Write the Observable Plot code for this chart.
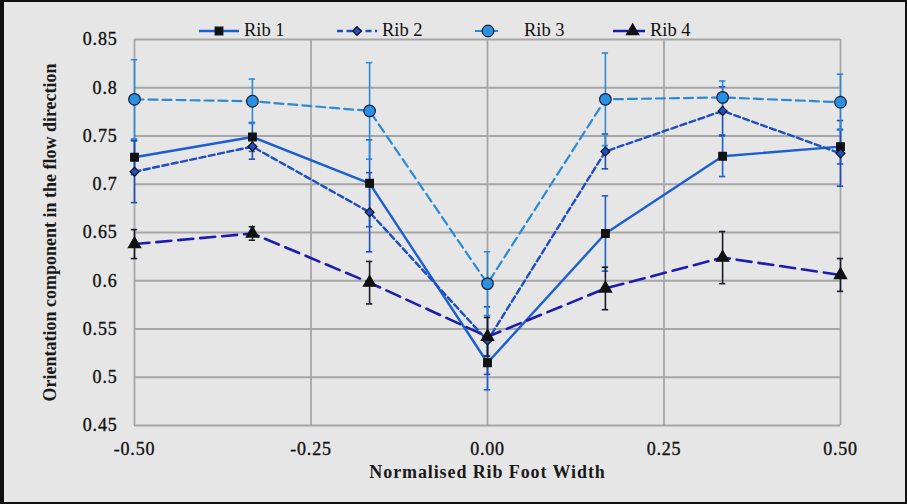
<!DOCTYPE html>
<html>
<head>
<meta charset="utf-8">
<script src="https://cdn.jsdelivr.net/npm/d3@7"></script>
<script src="https://cdn.jsdelivr.net/npm/@observablehq/plot@0.6"></script>
<style>
  html, body { margin: 0; padding: 0; background: #e6e6e6; }
  #wrap { position: relative; width: 907px; height: 504px; background: #e6e6e6; overflow: hidden; }
  #frame { position: absolute; left: 0; top: 0; width: 907px; height: 504px; box-sizing: border-box;
           border-style: solid; border-color: #111; border-width: 2px 2px 2px 4px; pointer-events: none; }
  #legend { position: absolute; top: 20px; left: 197px; display: flex; font-family: "Liberation Serif", serif;
            font-size: 18.5px; color: #111; }
  .item { display: flex; align-items: center; width: 138px; }
  .item svg { margin-right: 3px; }
  #chart svg text { font-family: "Liberation Serif", serif; }
  #chart g[aria-label="y-axis tick label"], #chart g[aria-label="x-axis tick label"] { font-size: 18px; letter-spacing: 0.8px; fill: #111; stroke: #111; stroke-width: 0.35px; }
  #chart g[aria-label="y-axis label"] { font-weight: bold; font-size: 18px; }
  #chart g[aria-label="x-axis label"] { font-weight: bold; font-size: 18px; letter-spacing: 0.9px; }
</style>
</head>
<body>
<div id="wrap">
  <div id="chart"></div>
  <div id="legend"></div>
  <div id="frame"></div>
</div>
<script>
// ---- data ----
const xValues = [-0.5, -0.333, -0.167, 0, 0.167, 0.333, 0.5];
const seriesNames = ["Rib 1", "Rib 2", "Rib 3", "Rib 4"];
const rib1 = [0.728, 0.749, 0.701, 0.515, 0.649, 0.729, 0.739];
const rib2 = [0.713, 0.739, 0.671, 0.538, 0.734, 0.776, 0.732];
const rib3 = [0.788, 0.786, 0.776, 0.597, 0.788, 0.790, 0.785];
const rib4 = [0.638, 0.649, 0.598, 0.542, 0.592, 0.624, 0.606];
const err1 = [0.018, 0.015, 0.045, 0.028, 0.039, 0.021, 0.018];
const err2 = [0.032, 0.013, 0.041, 0.035, 0.018, 0.025, 0.034];
const err3 = [0.041, 0.023, 0.050, 0.033, 0.048, 0.017, 0.029];
const err4 = [0.015, 0.007, 0.022, 0.020, 0.022, 0.027, 0.017];
const xTicks = [-0.5, -0.25, 0, 0.25, 0.5];
const xTickLabels = ["-0.50", "-0.25", "0.00", "0.25", "0.50"];
const yTicks = [0.45, 0.5, 0.55, 0.6, 0.65, 0.7, 0.75, 0.8, 0.85];
const yTickLabels = ["0.45", "0.5", "0.55", "0.6", "0.65", "0.7", "0.75", "0.8", "0.85"];
const xTitle = "Normalised Rib Foot Width";
const yTitle = "Orientation component in the flow direction";

// ---- styles ----
const styles = [
  {line: "#1b5fd2", dash: null, width: 2.4, symbol: "square", r: 4.3, fill: "#111", mstroke: "#111", err: "#1b5fd2", lw: 44, lx: 0},
  {line: "#1d4fc2", dash: "6,3.5", width: 2.4, symbol: "diamond2", r: 4.0, fill: "#1f4fc6", mstroke: "#111", err: "#1d4fb8", lw: 44, lx: 0},
  {line: "#2b8ad8", dash: "9,5", width: 2.2, symbol: "circle", r: 5.8, fill: "#2a90e0", mstroke: "#1a1f3a", err: "#2b8ad8", lw: 30, lx: 18},
  {line: "#1c1cb0", dash: "15,7", width: 2.6, symbol: "triangle", r: 4.6, fill: "#111", mstroke: "#111", err: "#1a1a2a", lw: 36, lx: 0}
];

const values = [rib1, rib2, rib3, rib4];
const errs = [err1, err2, err3, err4];
const series = seriesNames.map((name, i) =>
  xValues.map((x, j) => ({series: name, x, y: values[i][j], e: errs[i][j]})));

const capHalf = 0.0045;
const marks = [
  Plot.gridY(yTicks, {stroke: "#a6a6a6", strokeOpacity: 1, strokeWidth: 1.8}),
  Plot.gridX(xTicks, {stroke: "#a6a6a6", strokeOpacity: 1, strokeWidth: 1.8}),
  Plot.axisY(yTicks, {tickSize: 0, tickPadding: 17, tickFormat: (d, i) => yTickLabels[i],
    label: yTitle, labelAnchor: "center", labelOffset: 91, labelArrow: "none"}),
  Plot.axisX(xTicks, {tickSize: 0, tickPadding: 17, tickFormat: (d, i) => xTickLabels[i],
    label: xTitle, labelAnchor: "center", labelOffset: 52, labelArrow: "none"})
];
series.forEach((data, i) => {
  const s = styles[i];
  marks.push(Plot.line(data, {x: "x", y: "y", stroke: s.line, strokeWidth: s.width,
    strokeDasharray: s.dash || undefined, strokeLinejoin: "round"}));
});
series.forEach((data, i) => {
  const s = styles[i];
  marks.push(Plot.ruleX(data, {x: "x", y1: d => d.y - d.e, y2: d => d.y + d.e, stroke: s.err, strokeWidth: 1.6}));
  marks.push(Plot.ruleY(data, {y: d => d.y - d.e, x1: d => d.x - capHalf, x2: d => d.x + capHalf, stroke: s.err, strokeWidth: 1.6}));
  marks.push(Plot.ruleY(data, {y: d => d.y + d.e, x1: d => d.x - capHalf, x2: d => d.x + capHalf, stroke: s.err, strokeWidth: 1.6}));
});
series.forEach((data, i) => {
  const s = styles[i];
  marks.push(Plot.dot(data, {x: "x", y: "y", symbol: s.symbol, r: s.r, fill: s.fill, stroke: s.mstroke, strokeWidth: 1.2}));
});

const chart = Plot.plot({
  width: 907,
  height: 504,
  marginLeft: 134,
  marginRight: 67,
  marginTop: 39,
  marginBottom: 79,
  x: {domain: [-0.5, 0.5]},
  y: {domain: [0.45, 0.85]},
  style: {background: "transparent", fontFamily: "'Liberation Serif', serif", fontSize: "18px", color: "#1a1a1a"},
  marks
});
document.getElementById("chart").appendChild(chart);

// ---- legend ----
const legend = document.getElementById("legend");
const symMap = {square: d3.symbolSquare, diamond2: d3.symbolDiamond2, circle: d3.symbolCircle, triangle: d3.symbolTriangle};
seriesNames.forEach((name, i) => {
  const s = styles[i];
  const item = document.createElement("div");
  item.className = "item";
  const w = s.lw, h = 20;
  const sw = d3.create("svg").attr("width", w).attr("height", h);
  sw.append("line").attr("x1", 2).attr("x2", w - 2).attr("y1", h / 2).attr("y2", h / 2)
    .attr("stroke", s.line).attr("stroke-width", s.width)
    .attr("stroke-dasharray", s.dash ? s.dash : null);
  const area = Math.PI * s.r * s.r;
  const cx = i === 3 ? w * 0.6 : w / 2;
  sw.append("path").attr("transform", `translate(${cx},${h / 2})`)
    .attr("d", d3.symbol(symMap[s.symbol], area)())
    .attr("fill", s.fill).attr("stroke", s.mstroke).attr("stroke-width", 1.2);
  item.appendChild(sw.node());
  const t = document.createElement("span");
  t.textContent = name;
  if (s.lx) t.style.marginLeft = s.lx + "px";
  item.appendChild(t);
  legend.appendChild(item);
});
</script>
</body>
</html>
